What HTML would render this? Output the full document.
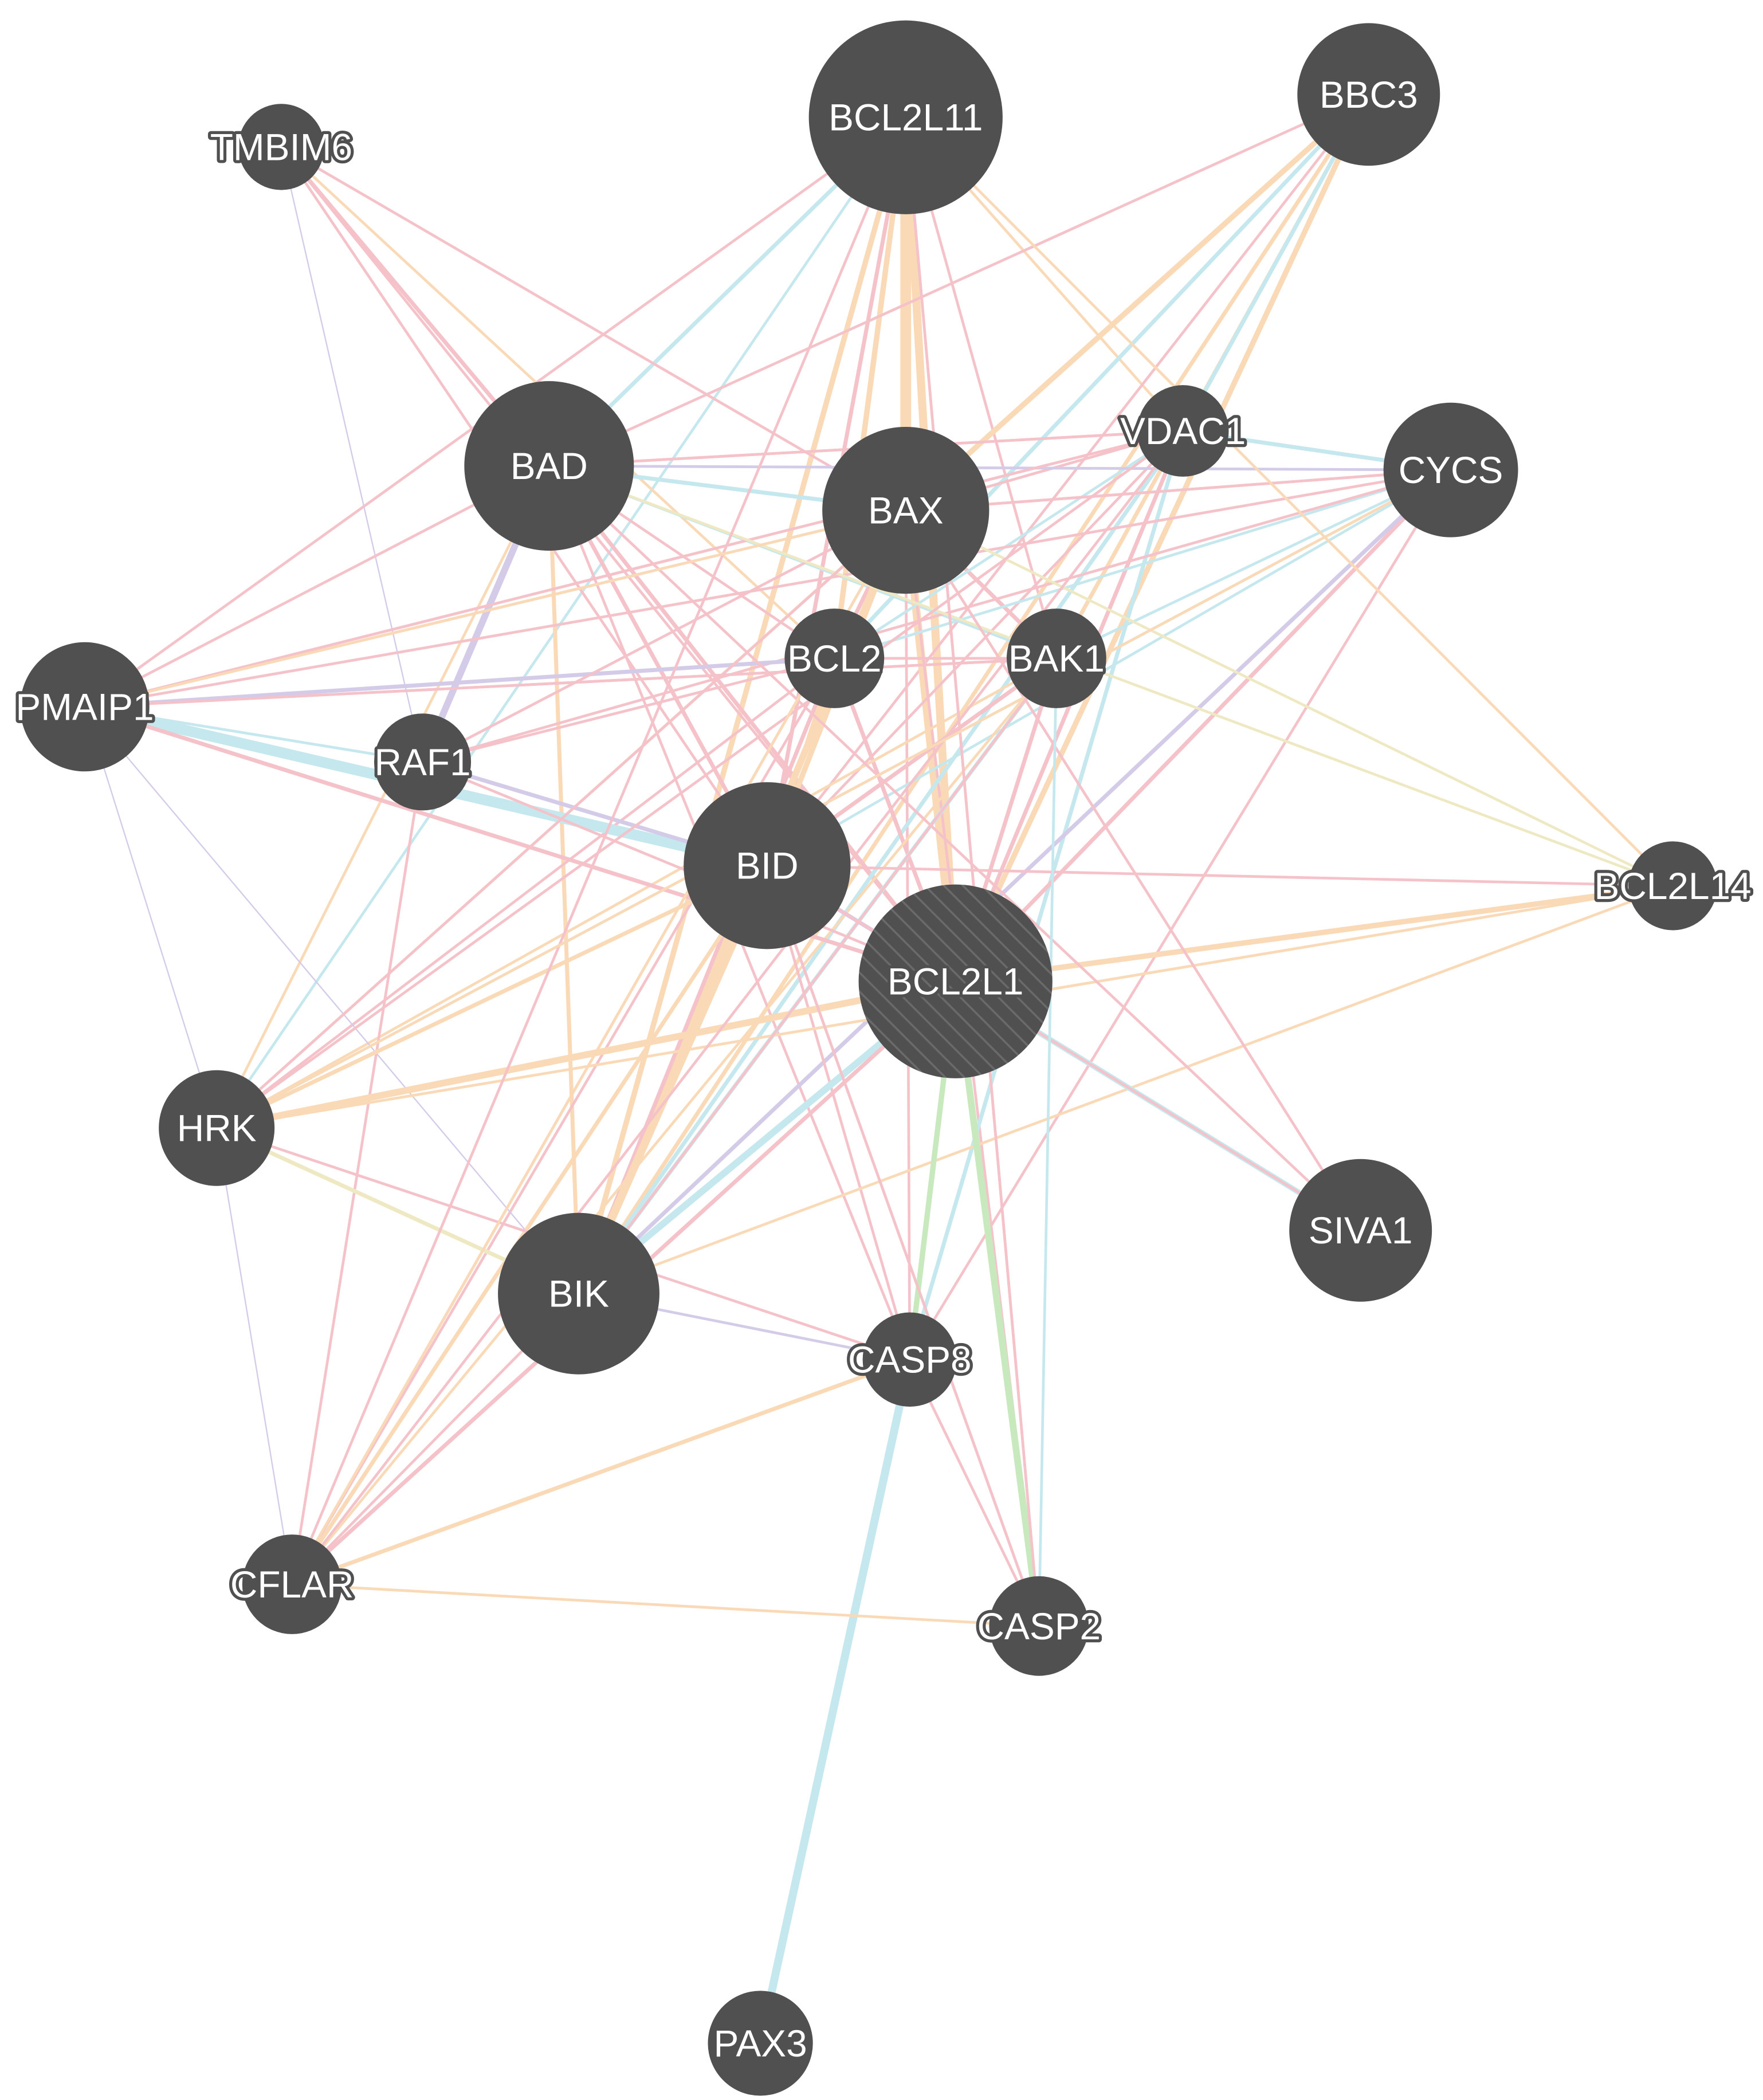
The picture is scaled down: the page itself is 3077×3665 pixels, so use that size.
<!DOCTYPE html>
<html><head><meta charset="utf-8"><style>
html,body{margin:0;padding:0;background:#fff;}
svg{display:block;}
text{font-family:"Liberation Sans",sans-serif;font-size:28px;fill:#fff;text-anchor:middle;dominant-baseline:central;paint-order:stroke;stroke:#505050;stroke-width:4.5px;stroke-linejoin:round;}
</style></head><body>
<svg width="3077" height="3665" viewBox="0 0 1310 1560" xmlns="http://www.w3.org/2000/svg">
<defs>
<pattern id="h" width="10" height="10" patternUnits="userSpaceOnUse" patternTransform="rotate(-45)">
<rect width="10" height="10" fill="#505050"/><line x1="0" y1="0" x2="0" y2="10" stroke="#6a6a6a" stroke-width="3"/>
</pattern>
</defs>
<g id="edges" fill="none" stroke-linecap="round" opacity="0.6"></g>
<g id="nodes"></g>
</svg>
<script>
var N={A:[673,87,72,"BCL2L11"],B:[1017,70,53,"BBC3"],T:[209,109,32,"TMBIM6"],D:[408,346,63,"BAD"],X:[673,379,62,"BAX"],V:[879,320,34,"VDAC1"],C:[1078,349,50,"CYCS"],L2:[620,489,37,"BCL2"],K:[785,489,37,"BAK1"],P:[63,525,48,"PMAIP1"],R:[314,566,36,"RAF1"],I:[570,643,62,"BID"],L14:[1243,658,33,"BCL2L14"],L1:[710,729,72,"BCL2L1"],H:[161,838,43,"HRK"],S:[1011,914,53,"SIVA1"],BK:[430,961,60,"BIK"],C8:[676,1010,35,"CASP8"],CF:[217,1177,37,"CFLAR"],C2:[772,1208,37,"CASP2"],PX:[565,1518,39,"PAX3"]};
var col={p:"#ee9aa4",o:"#f7c088",c:"#9fd8e4",u:"#b8aadc",g:"#a4dc94",y:"#e4dc9c"};
var E="A-X o 8,A-L1 o 6,A-I p 3,A-L2 o 4,A-K p 2,A-D c 3,A-V o 2,A-BK o 4,A-H c 2,A-P p 2,A-C2 p 2,T-D p 3,T-X p 2,T-L1 p 2,T-I p 2,T-R u 1,T-L2 o 2,B-X o 4,B-L1 o 4,B-K o 3,B-I p 2,B-L2 c 3,B-D p 2,B-BK o 3,B-V c 3,B-H o 2,D-X c 3,D-L1 p 3,D-I p 3,D-L2 p 2,D-K c 2,D-C c 2,D-V p 2,D-R u 5,D-BK o 3,D-C8 p 2,D-P p 2,D-H o 2,X-L1 o 6,X-I o 4,X-L2 p 3,X-K p 3,X-V p 2,X-C p 2,X-BK o 5,X-P p 2,X-H o 2,X-CF p 2,X-C2 p 2,X-C8 p 2,V-L1 p 3,V-I p 2,V-L2 c 2,V-D p 2,V-C c 3,V-BK c 3,V-C8 c 3,V-P p 2,C-L1 p 3,C-I c 2,C-K c 2,C-L2 c 2,C-X p 2,C-H c 2,C-BK u 3,C-D u 2,C-R p 2,C-C8 p 2,L2-L1 p 3,L2-I o 3,L2-K p 2,L2-P u 3,L2-R p 2,L2-BK p 3,L2-H p 2,L2-CF p 2,K-L1 p 3,K-I p 3,K-P p 2,K-BK c 3,K-H o 2,K-CF o 2,P-I c 8,P-L1 p 3,P-R c 2,P-H u 1,P-BK u 1,P-C p 2,P-V p 2,P-K p 2,R-I u 3,R-L1 p 2,R-CF p 2,R-X p 2,I-L1 u 3,I-BK o 6,I-H o 3,I-C8 p 2,I-C2 p 2,I-CF o 3,I-L14 p 2,I-S p 2,L14-L1 o 4,L14-X y 2,L14-D y 2,L14-BK o 2,L14-H o 2,L14-A o 2,L1-H o 5,L1-S c 4,L1-BK c 5,L1-C8 g 4,L1-C2 g 5,L1-CF p 3,H-BK y 3,H-CF u 1,S-D p 2,S-X p 2,S-I p 2,BK-C8 u 2,BK-CF p 2,C8-PX c 6,C8-CF o 3,C8-C2 p 2,C8-H p 2,CF-C2 o 2,C2-I p 2,C2-A p 2,C2-K c 2,CF-A p 2,CF-V p 2,H-V p 2,H-C o 2,P-X o 2,H-X p 2,BK-K p 2,CF-X o 2";
var ns="http://www.w3.org/2000/svg",eg=document.getElementById("edges"),ng=document.getElementById("nodes");
E.split(",").forEach(function(s){var q=s.split(" "),ab=q[0].split("-"),a=N[ab[0]],b=N[ab[1]];var l=document.createElementNS(ns,"line");l.setAttribute("x1",a[0]);l.setAttribute("y1",a[1]);l.setAttribute("x2",b[0]);l.setAttribute("y2",b[1]);l.setAttribute("stroke",col[q[1]]);l.setAttribute("stroke-width",q[2]);eg.appendChild(l);});
for(var k in N){var n=N[k];var c=document.createElementNS(ns,"circle");c.setAttribute("cx",n[0]);c.setAttribute("cy",n[1]);c.setAttribute("r",n[2]);c.setAttribute("fill",k=="L1"?"url(#h)":"#505050");ng.appendChild(c);var t=document.createElementNS(ns,"text");t.setAttribute("x",n[0]);t.setAttribute("y",n[1]);t.textContent=n[3];ng.appendChild(t);}
</script>
</body></html>
